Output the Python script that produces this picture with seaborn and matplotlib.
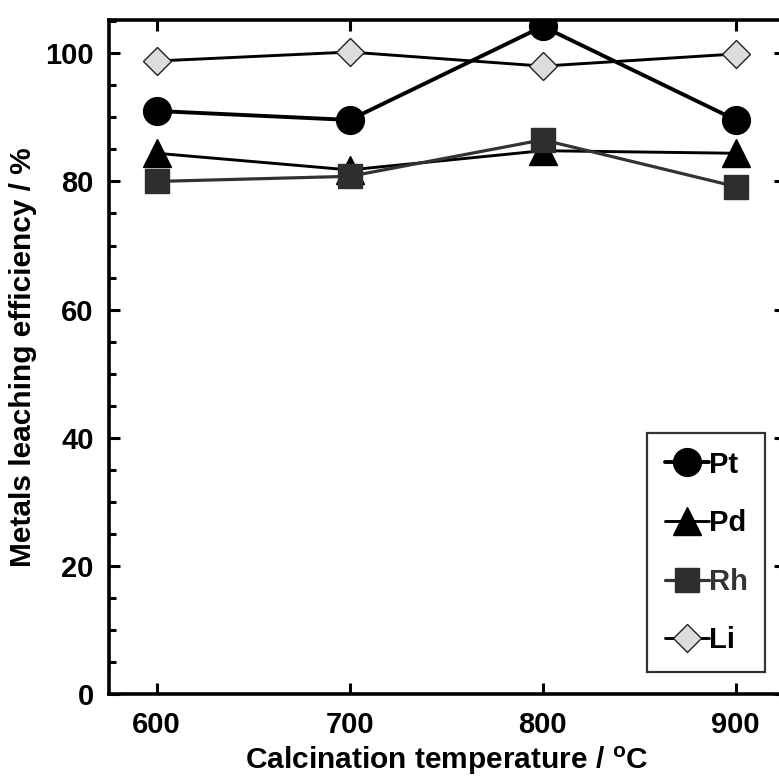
import numpy as np
import pandas as pd
import matplotlib
matplotlib.use("Agg")
import matplotlib.pyplot as plt
from matplotlib.ticker import MultipleLocator
import seaborn as sns

temps = [600, 700, 800, 900]
pt = [91.0, 89.6, 104.2, 89.6]
pd_vals = [84.4, 81.8, 84.8, 84.4]
rh = [80.0, 80.8, 86.5, 79.2]
li = [98.8, 100.2, 98.0, 99.9]

metals = ["Pt", "Pd", "Rh", "Li"]

sns.set_theme(style="ticks")
plt.rcParams["font.family"] = ["Liberation Sans", "DejaVu Sans"]
plt.rcParams["font.weight"] = "bold"
for key in ["text.color", "axes.labelcolor", "xtick.color", "ytick.color", "axes.edgecolor"]:
    plt.rcParams[key] = "black"

df = pd.DataFrame({
    "temp": temps * 4,
    "value": pt + pd_vals + rh + li,
    "metal": np.repeat(metals, len(temps)),
})

styles = {
    "Pt": dict(color="black", lw=2.8, marker="o", ms=20, mfc="black", mec="black", mew=1, z=5),
    "Pd": dict(color="black", lw=2.1, marker="^", ms=20, mfc="black", mec="black", mew=1, z=3),
    "Rh": dict(color="#333333", lw=2.3, marker="s", ms=17, mfc="#2e2e2e", mec="#2e2e2e", mew=1, z=4),
    "Li": dict(color="black", lw=2.1, marker="D", ms=14, mfc="#dcdedd", mec="#222222", mew=1, z=2),
}

fig = plt.figure(figsize=(7.79, 7.79), dpi=100)
ax = fig.add_axes([109 / 779, 1 - 694 / 779, 676 / 779, 674 / 779])

for m in metals:
    s = styles[m]
    sns.lineplot(data=df[df["metal"] == m], x="temp", y="value", ax=ax,
                 color=s["color"], linewidth=s["lw"], marker=s["marker"],
                 markersize=s["ms"], markerfacecolor=s["mfc"],
                 markeredgecolor=s["mec"], markeredgewidth=s["mew"],
                 zorder=s["z"], label=m, legend=False)

ax.set_xlim(575.3, 925.5)
ax.set_ylim(0, 105.2)
ax.set_xticks(temps)
ax.yaxis.set_major_locator(MultipleLocator(20))
ax.yaxis.set_minor_locator(MultipleLocator(5))

for sp in ax.spines.values():
    sp.set_linewidth(2.6)
    sp.set_color("black")

ax.tick_params(axis="both", which="major", direction="in", length=8, width=2.2,
               labelsize=21, colors="black")
ax.tick_params(axis="y", which="major", pad=11)
ax.tick_params(axis="x", which="major", pad=12)
ax.tick_params(axis="y", which="minor", direction="in", length=5, width=2.2)
ax.tick_params(top=True, right=True, which="major")
ax.tick_params(axis="x", which="minor", bottom=False, top=False)
for lab in ax.get_xticklabels() + ax.get_yticklabels():
    lab.set_fontweight("bold")

ax.set_xlabel("Calcination temperature / $\\mathregular{^{o}}$C", fontsize=21.5,
              fontweight="bold", labelpad=4)
ax.set_ylabel("Metals leaching efficiency / %", fontsize=21.5, fontweight="bold",
              labelpad=6)

handles, labels = ax.get_legend_handles_labels()
leg = ax.legend(handles, labels, loc="lower right",
                bbox_to_anchor=((765 - 109) / 676, (694 - 672) / 674),
                borderaxespad=0, frameon=True, fancybox=False, edgecolor="black",
                handlelength=1.5, handletextpad=0.0, labelspacing=1.05,
                borderpad=0.6, prop={"size": 21, "weight": "bold"}, markerscale=1.0)
leg.get_frame().set_linewidth(1.6)
for t in leg.get_texts():
    if t.get_text() == "Rh":
        t.set_color("#333333")

fig.savefig("out.png", dpi=100)
